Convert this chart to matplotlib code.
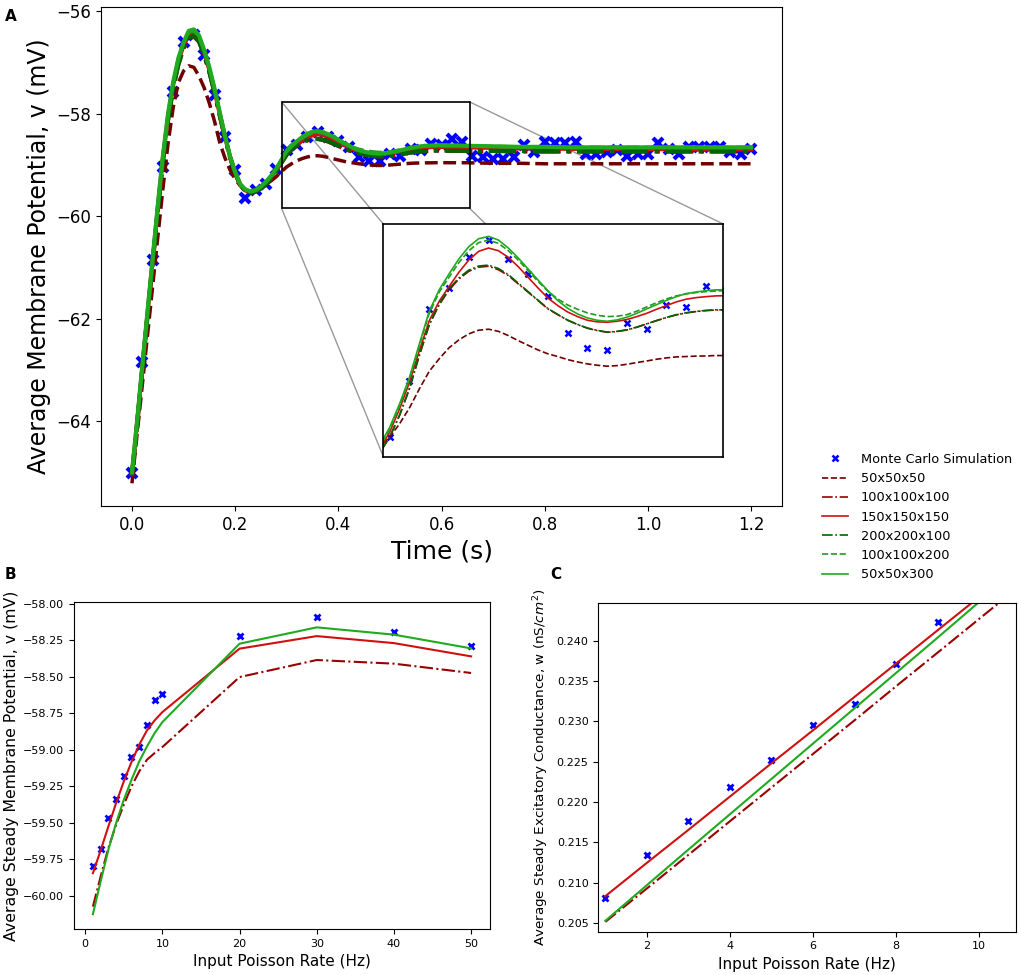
import matplotlib
matplotlib.use("Agg")
import matplotlib.pyplot as plt
from matplotlib.patches import Rectangle, ConnectionPatch

# ---------------- data ----------------
# time grid of the model curves (s)
time_model = [0.00, 0.01, 0.02, 0.03, 0.04, 0.05, 0.06, 0.07, 0.08, 0.09,
              0.10, 0.11, 0.12, 0.13, 0.14, 0.15, 0.16, 0.17, 0.18, 0.19,
              0.20, 0.21, 0.22, 0.23, 0.24, 0.25, 0.26, 0.27, 0.28, 0.29,
              0.30, 0.31, 0.32, 0.33, 0.34, 0.35, 0.36, 0.37, 0.38, 0.39,
              0.40, 0.41, 0.42, 0.43, 0.44, 0.45, 0.46, 0.47, 0.48, 0.49,
              0.50, 0.51, 0.52, 0.53, 0.54, 0.55, 0.56, 0.57, 0.58, 0.59,
              0.60, 0.65, 0.70, 0.75, 0.80, 0.85, 0.90, 0.95, 1.00, 1.05,
              1.10, 1.15, 1.20]

v_50x50x50 = [-65.21, -64.25, -63.30, -62.34, -61.38, -60.42, -59.47, -58.58, -57.88, -57.40,
              -57.17, -57.07, -57.10, -57.27, -57.50, -57.80, -58.15, -58.56, -58.86, -59.10,
              -59.28, -59.41, -59.49, -59.51, -59.48, -59.43, -59.380, -59.311, -59.229, -59.131,
              -59.040, -58.976, -58.919, -58.878, -58.847, -58.828, -58.823, -58.834, -58.856, -58.882,
              -58.906, -58.930, -58.950, -58.964, -58.980, -58.992, -59.002, -59.009, -59.014, -59.011,
              -59.004, -58.995, -58.987, -58.978, -58.971, -58.966, -58.964, -58.962, -58.961, -58.959,
              -58.959, -58.96, -58.97, -58.97, -58.98, -58.98, -58.98, -58.98, -58.98, -58.98,
              -58.98, -58.98, -58.98]

v_100x100x100 = [-65.06, -64.06, -63.00, -61.96, -60.93, -59.90, -58.93, -58.12, -57.50, -57.04,
                 -56.73, -56.53, -56.50, -56.60, -56.86, -57.19, -57.59, -58.03, -58.46, -58.85,
                 -59.16, -59.40, -59.51, -59.55, -59.52, -59.46, -59.380, -59.268, -59.131, -58.959,
                 -58.801, -58.698, -58.620, -58.564, -58.524, -58.503, -58.498, -58.516, -58.546, -58.589,
                 -58.632, -58.675, -58.718, -58.748, -58.777, -58.799, -58.818, -58.830, -58.839, -58.835,
                 -58.827, -58.813, -58.796, -58.779, -58.763, -58.749, -58.739, -58.732, -58.727, -58.724,
                 -58.724, -58.73, -58.73, -58.74, -58.74, -58.74, -58.74, -58.74, -58.74, -58.74,
                 -58.74, -58.74, -58.74]

v_150x150x150 = [-65.03, -64.03, -62.96, -61.92, -60.88, -59.85, -58.87, -58.06, -57.44, -56.98,
                 -56.67, -56.46, -56.43, -56.54, -56.81, -57.15, -57.55, -58.00, -58.44, -58.84,
                 -59.15, -59.39, -59.50, -59.54, -59.51, -59.44, -59.354, -59.234, -59.097, -58.933,
                 -58.779, -58.679, -58.603, -58.529, -58.466, -58.421, -58.404, -58.418, -58.452, -58.500,
                 -58.555, -58.610, -58.662, -58.701, -58.734, -58.758, -58.777, -58.785, -58.787, -58.782,
                 -58.773, -58.758, -58.741, -58.720, -58.701, -58.682, -58.668, -58.660, -58.655, -58.651,
                 -58.650, -58.66, -58.67, -58.68, -58.68, -58.69, -58.69, -58.69, -58.69, -58.70,
                 -58.70, -58.70, -58.70]

v_200x200x100 = [-65.06, -64.06, -63.00, -61.96, -60.93, -59.90, -58.93, -58.12, -57.50, -57.04,
                 -56.72, -56.52, -56.49, -56.59, -56.86, -57.19, -57.59, -58.03, -58.46, -58.85,
                 -59.16, -59.40, -59.51, -59.55, -59.52, -59.46, -59.378, -59.265, -59.127, -58.954,
                 -58.796, -58.692, -58.614, -58.558, -58.518, -58.497, -58.492, -58.510, -58.541, -58.585,
                 -58.629, -58.673, -58.716, -58.747, -58.776, -58.798, -58.817, -58.829, -58.838, -58.834,
                 -58.826, -58.812, -58.795, -58.778, -58.762, -58.748, -58.738, -58.731, -58.726, -58.723,
                 -58.723, -58.73, -58.73, -58.73, -58.74, -58.74, -58.74, -58.74, -58.74, -58.74,
                 -58.74, -58.74, -58.74]

v_100x100x200 = [-65.00, -64.00, -62.93, -61.89, -60.85, -59.81, -58.83, -58.02, -57.40, -56.94,
                 -56.63, -56.42, -56.39, -56.50, -56.78, -57.12, -57.52, -57.98, -58.43, -58.83,
                 -59.14, -59.38, -59.49, -59.53, -59.50, -59.43, -59.337, -59.217, -59.079, -58.907,
                 -58.741, -58.632, -58.555, -58.479, -58.418, -58.376, -58.363, -58.380, -58.418, -58.466,
                 -58.521, -58.576, -58.627, -58.667, -58.698, -58.720, -58.739, -58.751, -58.758, -58.756,
                 -58.748, -58.730, -58.708, -58.686, -58.667, -58.651, -58.641, -58.634, -58.629, -58.626,
                 -58.624, -58.63, -58.64, -58.65, -58.65, -58.66, -58.66, -58.66, -58.66, -58.66,
                 -58.66, -58.66, -58.66]

v_50x50x300 = [-65.00, -64.00, -62.92, -61.88, -60.84, -59.80, -58.82, -58.00, -57.38, -56.92,
               -56.61, -56.39, -56.36, -56.48, -56.76, -57.10, -57.51, -57.97, -58.42, -58.83,
               -59.14, -59.38, -59.48, -59.52, -59.49, -59.42, -59.329, -59.208, -59.071, -58.899,
               -58.730, -58.620, -58.538, -58.460, -58.397, -58.356, -58.344, -58.363, -58.404, -58.455,
               -58.512, -58.569, -58.624, -58.675, -58.715, -58.744, -58.765, -58.777, -58.782, -58.775,
               -58.761, -58.741, -58.718, -58.696, -58.674, -58.655, -58.639, -58.631, -58.624, -58.620,
               -58.619, -58.63, -58.64, -58.65, -58.65, -58.66, -58.66, -58.66, -58.66, -58.66,
               -58.66, -58.66, -58.66]

# Monte Carlo samples (every 20 ms)
time_mc = [0.00, 0.02, 0.04, 0.06, 0.08, 0.10, 0.12, 0.14, 0.16, 0.18,
           0.20, 0.22, 0.24, 0.26, 0.28, 0.30, 0.32, 0.34, 0.36, 0.38,
           0.40, 0.42, 0.44, 0.46, 0.48, 0.50, 0.52, 0.54, 0.56, 0.58,
           0.60, 0.62, 0.64, 0.66, 0.68, 0.70, 0.72, 0.74, 0.76, 0.78,
           0.80, 0.82, 0.84, 0.86, 0.88, 0.90, 0.92, 0.94, 0.96, 0.98,
           1.00, 1.02, 1.04, 1.06, 1.08, 1.10, 1.12, 1.14, 1.16, 1.18, 1.20]
v_mc = [-65.00, -62.84, -60.85, -59.05, -57.58, -56.60, -56.47, -56.86, -57.64, -58.46,
        -59.11, -59.65, -59.50, -59.38, -59.09, -58.72, -58.61, -58.45, -58.36, -58.46,
        -58.54, -58.65, -58.84, -58.92, -58.93, -58.79, -58.82, -58.70, -58.71, -58.60,
        -58.62, -58.49, -58.56, -58.82, -58.85, -58.88, -58.88, -58.85, -58.62, -58.75,
        -58.56, -58.58, -58.58, -58.56, -58.78, -58.78, -58.75, -58.72, -58.82, -58.78,
        -58.78, -58.58, -58.69, -58.78, -58.65, -58.65, -58.65, -58.65, -58.75, -58.78, -58.69]

# panel B: steady membrane potential vs rate
rate_b = [1, 2, 3, 4, 5, 6, 7, 8, 9, 10, 20, 30, 40, 50]
vss_mc = [-59.80, -59.68, -59.47, -59.34, -59.18, -59.05, -58.98, -58.83, -58.66, -58.62,
          -58.22, -58.09, -58.19, -58.29]
vss_100x100x100 = [-60.075, -59.869, -59.674, -59.514, -59.377, -59.251, -59.148, -59.068, -59.022, -58.981,
                   -58.501, -58.384, -58.409, -58.473]
vss_150x150x150 = [-59.846, -59.690, -59.526, -59.366, -59.217, -59.084, -58.965, -58.867, -58.798, -58.741,
                   -58.306, -58.220, -58.268, -58.359]
vss_50x50x300 = [-60.127, -59.903, -59.686, -59.503, -59.343, -59.205, -59.080, -58.977, -58.885, -58.810,
                 -58.272, -58.160, -58.210, -58.304]

# panel C: steady excitatory conductance vs rate
rate_c_mc = [1, 2, 3, 4, 5, 6, 7, 8, 9]
wss_mc = [0.20814, 0.21339, 0.21760, 0.22186, 0.22517, 0.22959, 0.23215, 0.23715, 0.24236]
rate_c = [1, 2, 3, 4, 5, 6, 7, 8, 9, 10, 11]
wss_100x100x100 = [0.20512, 0.20926, 0.21343, 0.21760, 0.22178, 0.22595, 0.23012, 0.23434, 0.23851, 0.24269, 0.24686]
wss_150x150x150 = [0.20831, 0.21244, 0.21653, 0.22066, 0.22479, 0.22888, 0.23302, 0.23715, 0.24128, 0.24541, 0.24954]
wss_50x50x300 = [0.20525, 0.20967, 0.21409, 0.21847, 0.22285, 0.22723, 0.23161, 0.23599, 0.24037, 0.24479, 0.24920]

# ---------------- style ----------------
W, H = 1021, 975
col_mc = '#0000ff'
styles = [  # label, data, color, linestyle
    ('50x50x50', v_50x50x50, '#6e0000', '--'),
    ('100x100x100', v_100x100x100, '#9a0000', '-.'),
    ('150x150x150', v_150x150x150, '#d01010', '-'),
    ('200x200x100', v_200x200x100, '#006400', '-.'),
    ('100x100x200', v_100x100x200, '#229922', '--'),
    ('50x50x300', v_50x50x300, '#1faa1f', '-'),
]


def px_box(left, top, right, bottom):
    """pixel box (from top-left) -> figure fraction rect"""
    return [left / W, 1 - bottom / H, (right - left) / W, (bottom - top) / H]


fig = plt.figure(figsize=(W / 100, H / 100), dpi=100)

# ---------------- panel A ----------------
ax_a = fig.add_axes(px_box(101, 6.7, 782, 506))
ax_a.plot(time_mc, v_mc, 'x', color=col_mc, ms=7, mew=3)
for label, vals, c, ls in styles:
    ax_a.plot(time_model, vals, ls=ls, color=c, lw=2.5 if ls == '--' else 3)
ax_a.set_xlabel('Time (s)', fontsize=18)
ax_a.set_ylabel('Average Membrane Potential, v (mV)', fontsize=17)
ax_a.tick_params(labelsize=12)

# zoom rectangle
rect_x0, rect_x1 = 0.29, 0.6544
rect_y0, rect_y1 = -59.847, -57.773
ax_a.add_patch(Rectangle((rect_x0, rect_y0), rect_x1 - rect_x0, rect_y1 - rect_y0,
                         fill=False, ec='black', lw=1.2, zorder=5))

# inset
ax_in = fig.add_axes(px_box(383.3, 224, 723.3, 456.5))
legend_handles = []
h, = ax_in.plot(time_mc, v_mc, 'x', color=col_mc, ms=4, mew=1.8, label='Monte Carlo Simulation')
legend_handles.append(h)
for label, vals, c, ls in styles:
    h, = ax_in.plot(time_model, vals, ls=ls, color=c, lw=1.2, label=label)
    legend_handles.append(h)
ax_in.set_xlim(0.2535, 0.5975)
ax_in.set_ylim(-59.48, -58.28)
ax_in.set_xticks([])
ax_in.set_yticks([])
for s in ax_in.spines.values():
    s.set_linewidth(1.2)

# connector lines rectangle corner -> inset corner
for (xa, ya), (xb, yb) in [((rect_x0, rect_y1), (0, 1)), ((rect_x0, rect_y0), (0, 0)),
                           ((rect_x1, rect_y1), (1, 1)), ((rect_x1, rect_y0), (1, 0))]:
    con = ConnectionPatch(xyA=(xa, ya), coordsA=ax_a.transData,
                          xyB=(xb, yb), coordsB=ax_in.transAxes,
                          color='#999999', lw=1.0)
    ax_a.add_artist(con)

# ---------------- panel B ----------------
ax_b = fig.add_axes(px_box(74, 602.3, 490, 929))
ax_b.plot(rate_b, vss_mc, 'x', color=col_mc, ms=5, mew=2)
ax_b.plot(rate_b, vss_100x100x100, ls='-.', color='#9a0000', lw=1.5)
ax_b.plot(rate_b, vss_150x150x150, ls='-', color='#d01010', lw=1.5)
ax_b.plot(rate_b, vss_50x50x300, ls='-', color='#1faa1f', lw=1.5)
ax_b.set_xlabel('Input Poisson Rate (Hz)', fontsize=11)
ax_b.set_ylabel('Average Steady Membrane Potential, v (mV)', fontsize=11.3, labelpad=3)
ax_b.tick_params(labelsize=8)

# ---------------- panel C ----------------
ax_c = fig.add_axes(px_box(598.3, 602.7, 1015.7, 931.7))
ax_c.plot(rate_c_mc, wss_mc, 'x', color=col_mc, ms=5, mew=2)
ax_c.plot(rate_c, wss_100x100x100, ls='-.', color='#9a0000', lw=1.5)
ax_c.plot(rate_c, wss_150x150x150, ls='-', color='#d01010', lw=1.5)
ax_c.plot(rate_c, wss_50x50x300, ls='-', color='#1faa1f', lw=1.5)
ax_c.set_xlim(0.83, 10.88)
ax_c.set_ylim(0.2039, 0.2447)
ax_c.set_xlabel('Input Poisson Rate (Hz)', fontsize=11)
ax_c.set_ylabel('Average Steady Excitatory Conductance, w (nS/$cm^2$)', fontsize=9.7)
ax_c.tick_params(labelsize=8)

# legend (right of panel A)
fig.legend(handles=legend_handles, loc='upper left',
           bbox_to_anchor=(822 / W, 1 - 453 / H), frameon=False,
           fontsize=9.3, labelspacing=0.48, handletextpad=1.0,
           borderpad=0, borderaxespad=0)

# panel letters
fig.text(5 / W, 1 - 9 / H, 'A', fontsize=11, fontweight='bold', va='top')
fig.text(5 / W, 1 - 567 / H, 'B', fontsize=11, fontweight='bold', va='top')
fig.text(550 / W, 1 - 567 / H, 'C', fontsize=11, fontweight='bold', va='top')

fig.savefig('out.png', dpi=100)
plt.close()
